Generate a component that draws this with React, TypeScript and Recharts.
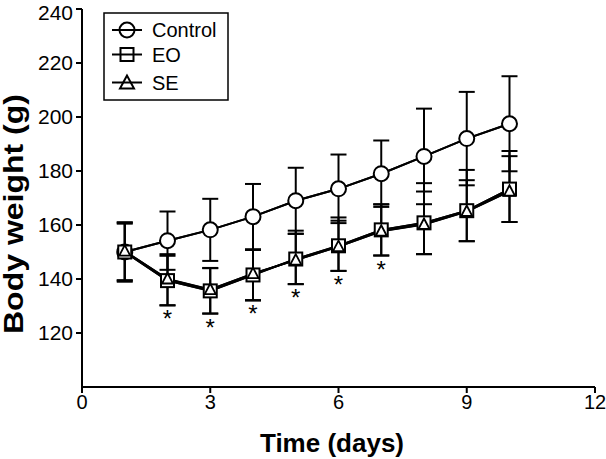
import React from 'react';
import { ComposedChart, Line, Scatter, XAxis, YAxis, ErrorBar } from 'recharts';

const FONT = '"Liberation Sans", Arial, sans-serif';

const days = [1, 2, 3, 4, 5, 6, 7, 8, 9, 10];
const controlMean = [150, 154.2, 158.2, 163.1, 169, 173.4, 179, 185.4, 192, 197.5];
const controlSD = [11, 10.8, 11.5, 12.1, 12.2, 12.7, 12.3, 17.7, 17.3, 17.6];
const eoMean = [150, 139.4, 135.6, 141.5, 147.4, 152.3, 158.2, 160.8, 165.3, 173.3];
const eoSD = [10.5, 9.2, 8.4, 9.3, 9.3, 9.3, 9.5, 11.6, 11.3, 12.2];
const seMean = [150.3, 140, 136.1, 142, 147, 152, 157.7, 160.2, 165, 172.5];
const seUp = [10.6, 9.2, 8.0, 8.8, 10.9, 10.8, 9.9, 15.3, 15.4, 14.9];
const seLow = [10.8, 9.7, 8.9, 10, 8.9, 9, 9.0, 11, 11, 11.4];
const starDays = [2, 3, 4, 5, 6, 7];

const xTicks = [0, 3, 6, 9, 12];
const yTicks = [120, 140, 160, 180, 200, 220, 240];

const data = days.map((d, i) => ({
  day: d,
  control: controlMean[i],
  controlErr: controlSD[i],
  eo: eoMean[i],
  eoErr: eoSD[i],
  se: seMean[i],
  seErr: [seLow[i], seUp[i]],
}));

const stars = starDays.map((d) => {
  const i = days.indexOf(d);
  return { day: d, low: eoMean[i] - eoSD[i] };
});

const CircleDot = (props: any) => {
  const { cx, cy, index } = props;
  return <circle key={`c-${index}`} cx={cx} cy={cy} r={7.5} fill="#fff" stroke="#000" strokeWidth={2} />;
};

const SquareDot = (props: any) => {
  const { cx, cy, index } = props;
  return <rect key={`s-${index}`} x={cx - 6.5} y={cy - 6.5} width={13} height={13} fill="#fff" stroke="#000" strokeWidth={2} />;
};

const TriangleDot = (props: any) => {
  const { cx, cy, index } = props;
  return (
    <polygon
      key={`t-${index}`}
      points={`${cx},${cy - 6} ${cx - 5.5},${cy + 4.5} ${cx + 5.5},${cy + 4.5}`}
      fill="#fff"
      stroke="#000"
      strokeWidth={1.8}
    />
  );
};

const Star = (props: any) => {
  const { cx, cy } = props;
  return (
    <text x={cx} y={cy + 22} textAnchor="middle" fontSize={24} fontFamily={FONT} fill="#000">
      *
    </text>
  );
};

const Legend = () => (
  <svg width={126} height={89} style={{ position: 'absolute', left: 103, top: 12 }}>
    <rect x={1} y={1} width={124} height={87} fill="#fff" stroke="#000" strokeWidth={1.5} />
    {[
      { label: 'Control', cy: 18, kind: 'c' },
      { label: 'EO', cy: 42.5, kind: 's' },
      { label: 'SE', cy: 70.5, kind: 't' },
    ].map((r) => (
      <g key={r.label}>
        <line x1={9} x2={39} y1={r.cy} y2={r.cy} stroke="#000" strokeWidth={2} />
        {r.kind === 'c' && <circle cx={24} cy={r.cy} r={7.5} fill="none" stroke="#000" strokeWidth={2} />}
        {r.kind === 's' && <rect x={17.5} y={r.cy - 6.5} width={13} height={13} fill="none" stroke="#000" strokeWidth={2} />}
        {r.kind === 't' && (
          <polygon points={`24,${r.cy - 7} 17,${r.cy + 6} 31,${r.cy + 6}`} fill="none" stroke="#000" strokeWidth={2} />
        )}
        <text x={49} y={r.cy} dominantBaseline="central" fontSize={20} fontFamily={FONT} fill="#000">
          {r.label}
        </text>
      </g>
    ))}
  </svg>
);

export default function App() {
  const axisLine = { stroke: '#000', strokeWidth: 2 };
  return (
    <div style={{ position: 'absolute', left: 0, top: 0, width: 606, height: 459, background: '#fff' }}>
      <ComposedChart width={606} height={459} data={data} margin={{ top: 9, right: 11, bottom: 0, left: 0 }}>
        <XAxis
          type="number"
          dataKey="day"
          domain={[0, 12]}
          ticks={xTicks}
          height={72}
          tickSize={6}
          tickMargin={2}
          axisLine={axisLine}
          tickLine={axisLine}
          tick={{ fontSize: 20, fill: '#000', fontFamily: FONT }}
          label={{
            content: () => (
              <text x={332} y={452} textAnchor="middle" fontSize={26} fontWeight="bold" fontFamily={FONT} fill="#000">
                Time (days)
              </text>
            ),
          }}
        />
        <YAxis
          type="number"
          domain={[100, 240]}
          ticks={yTicks}
          width={82}
          allowDataOverflow
          tickSize={6}
          tickMargin={3}
          axisLine={axisLine}
          tickLine={axisLine}
          tick={{ fontSize: 21, fill: '#000', fontFamily: FONT }}
          label={{
            content: () => (
              <text
                x={14}
                y={214}
                transform="rotate(-90 14 214)"
                textAnchor="middle"
                dominantBaseline="central"
                fontSize={27}
                fontWeight="bold"
                fontFamily={FONT}
                fill="#000"
                textLength={240}
                lengthAdjust="spacingAndGlyphs"
              >
                Body weight (g)
              </text>
            ),
          }}
        />
        <Line dataKey="control" stroke="#000" strokeWidth={2} dot={CircleDot} activeDot={false} isAnimationActive={false}>
          <ErrorBar dataKey="controlErr" direction="y" width={8} stroke="#000" strokeWidth={2} />
        </Line>
        <Line dataKey="eo" stroke="#000" strokeWidth={2} dot={SquareDot} activeDot={false} isAnimationActive={false}>
          <ErrorBar dataKey="eoErr" direction="y" width={8} stroke="#000" strokeWidth={2} />
        </Line>
        <Line dataKey="se" stroke="#000" strokeWidth={2} dot={TriangleDot} activeDot={false} isAnimationActive={false}>
          <ErrorBar dataKey="seErr" direction="y" width={8} stroke="#000" strokeWidth={2} />
        </Line>
        <Line dataKey="control" stroke="#000" strokeWidth={2} dot={false} activeDot={false} isAnimationActive={false} />
        <Line dataKey="eo" stroke="#000" strokeWidth={1.8} dot={false} activeDot={false} isAnimationActive={false} />
        <Line dataKey="se" stroke="#000" strokeWidth={1.8} dot={false} activeDot={false} isAnimationActive={false} />
        <Scatter data={stars} dataKey="low" shape={Star} isAnimationActive={false} />
      </ComposedChart>
      <Legend />
    </div>
  );
}
